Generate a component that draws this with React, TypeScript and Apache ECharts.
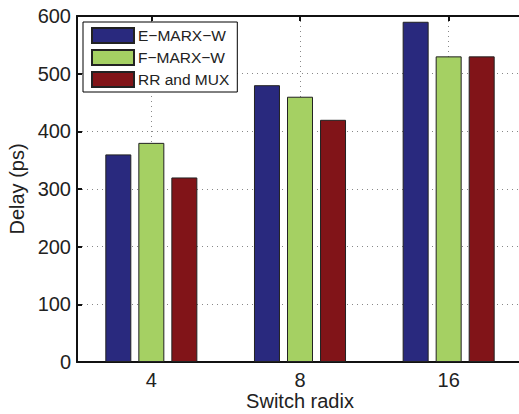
import React, { useEffect, useRef } from "react";
import * as echarts from "echarts";

const categories = ["4", "8", "16"];
const gridCategories = ["", "4", "", "8", "", "16", ""];
const seriesNames = ["E\u2212MARX\u2212W", "F\u2212MARX\u2212W", "RR and MUX"];
const eMarxW = [360, 480, 590];
const fMarxW = [380, 460, 530];
const rrMux = [320, 420, 530];
const colors = ["#29297e", "#a5d063", "#811418"];

export default function App() {
  const ref = useRef<HTMLDivElement>(null);
  useEffect(() => {
    document.body.style.margin = "0";
    const chart = echarts.init(ref.current!, null, { renderer: "svg" });
    const font = "'Liberation Sans', Arial, sans-serif";
    const values = [eMarxW, fMarxW, rrMux];
    chart.setOption({
      animation: false,
      backgroundColor: "#fff",
      textStyle: { fontFamily: font },
      grid: { left: 77, top: 16, width: 446, height: 346, containLabel: false, outerBoundsMode: "none" },
      legend: {
        orient: "vertical",
        left: 83,
        top: 22,
        itemWidth: 42,
        itemHeight: 15,
        itemGap: 5,
        padding: [5, 8, 4, 8],
        backgroundColor: "#fff",
        borderColor: "#000",
        borderWidth: 1,
        borderRadius: 0,
        icon: "rect",
        textStyle: { fontSize: 15.5, color: "#222", lineHeight: 15, fontFamily: font, padding: [0, 0, 0, -1] },
        data: seriesNames,
      },
      xAxis: [
        {
          type: "category",
          data: categories,
          position: "bottom",
          axisLine: { lineStyle: { color: "#111", width: 2 } },
          axisTick: { inside: true, alignWithLabel: true, length: 5, lineStyle: { color: "#111", width: 2 } },
          axisLabel: { fontSize: 20, lineHeight: 19, color: "#222", margin: 8, fontFamily: font },
          splitLine: { show: false },
          name: "Switch radix",
          nameLocation: "middle",
          nameGap: 29,
          nameMoveOverlap: false,
          nameTextStyle: { fontSize: 20, lineHeight: 19, color: "#222", fontFamily: font },
        },
        {
          type: "category",
          data: gridCategories,
          position: "top",
          boundaryGap: false,
          axisLine: { show: true, lineStyle: { color: "#111", width: 2 } },
          axisTick: { show: true, inside: true, length: 5, interval: (i: number) => i % 2 === 1, lineStyle: { color: "#111", width: 2 } },
          axisLabel: { show: false },
          splitLine: { show: true, interval: (i: number) => i % 2 === 1, lineStyle: { color: "#888", type: [1, 4], width: 1 } },
        },
      ],
      yAxis: {
        type: "value",
        min: 0,
        max: 600,
        interval: 100,
        axisLine: { show: true, lineStyle: { color: "#111", width: 2 } },
        axisTick: { show: true, inside: true, length: 5, lineStyle: { color: "#111", width: 2 } },
        axisLabel: { fontSize: 20, color: "#222", margin: 6, fontFamily: font },
        splitLine: { show: true, lineStyle: { color: "#888", type: [1, 4], width: 1 } },
        name: "Delay (ps)",
        nameLocation: "middle",
        nameGap: 50,
        nameMoveOverlap: false,
        nameTextStyle: { fontSize: 20, color: "#222", fontFamily: font },
      },
      series: seriesNames.map((name, i) => ({
        name,
        type: "bar",
        xAxisIndex: 0,
        data: values[i],
        barWidth: 26,
        barGap: "27%",
        itemStyle: { color: colors[i], borderColor: "#222", borderWidth: 1 },
      })),
    });
    return () => chart.dispose();
  }, []);
  return <div ref={ref} style={{ position: "absolute", left: 0, top: 0, width: 519, height: 414 }} />;
}
